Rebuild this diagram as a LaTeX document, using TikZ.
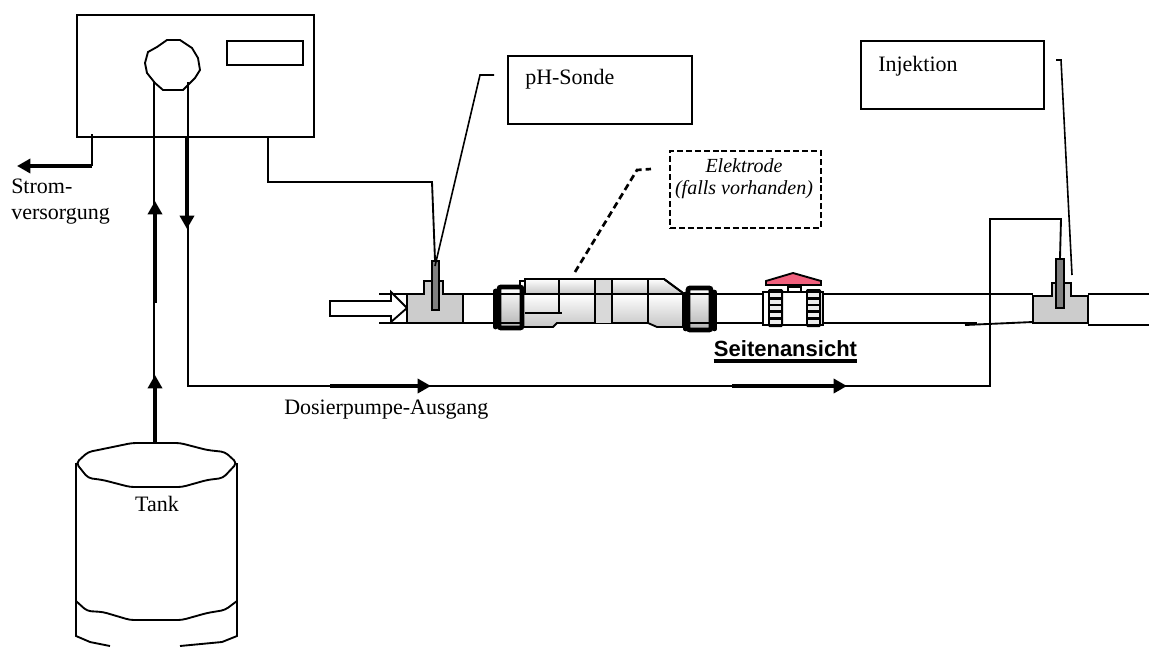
\documentclass[tikz,border=0pt]{standalone}
\usepackage{fontspec}
\setmainfont{Liberation Serif}
\setsansfont{Liberation Sans}
\usetikzlibrary{arrows.meta,positioning}
\definecolor{fittinggray}{gray}{0.8}
\definecolor{probegray}{gray}{0.5}
\definecolor{handlepink}{RGB}{240,96,125}
\tikzset{
  line/.style={draw,line width=1.4pt},
  leader/.style={draw,line width=1.2pt},
  labelbox/.style={draw,line width=1.5pt,inner sep=0pt,anchor=north west},
  caption/.style={font=\fontsize{16.5}{19}\selectfont,inner sep=0pt},
  fitting/.style={fill=fittinggray,draw=black,line width=.8pt},
  probe/.style={fill=probegray,draw=black,line width=1.5pt,inner sep=0pt},
  flow/.style={-{Triangle[length=10pt,width=10.5pt]},line width=2.6pt},
  nut/.style={draw,line width=3.6pt,rounded corners=1.5pt,inner sep=0pt,top color=white,bottom color=gray!60},
  body/.style={draw,line width=1.4pt,top color=white,bottom color=gray!45},
}
\begin{document}
\begin{tikzpicture}[x=.75pt,y=-.75pt]
  \useasboundingbox (0,0) rectangle (1149,646);
  % pump
  \node[labelbox,minimum width=177.75pt,minimum height=91.5pt] (pump) at (76,14) {};
  \node[labelbox,minimum width=57pt,minimum height=18pt] (display) at (226,40) {};
  \draw[line] (145,63) -- (148,52) -- (157,47) -- (167,40) -- (180,40) -- (192,48) -- (198,58) -- (200,70) -- (195,78) -- (188,85) -- (183,90) -- (163,90) -- (155,83) -- (147,73) -- cycle;
  % tank
  \draw[line,rounded corners=3pt] (76,463) -- (88,452) -- (103,449) -- (132,443) -- (180,443) -- (207,450) -- (225,452) -- (237,463) -- (223,478) -- (207,480) -- (182,487) -- (130,487) -- (103,480) -- (88,478) -- cycle;
  \draw[line] (76,463) -- (76,636) -- (90,642) -- (110,646);
  \draw[line] (237,463) -- (237,636) -- (222,642) -- (180,646);
  \draw[line,rounded corners=3pt] (76,601) -- (87,611) -- (103,612) -- (130,620) -- (182,620) -- (207,613) -- (225,610) -- (237,601);
  \node[caption] (tank) at (157,504) {Tank};
  % pipe
  \draw[line] (379,294) -- (1033,294);
  \draw[line] (379,323) -- (977,323);
  \draw[line] (965,325) -- (1033,322);
  \draw[line] (1088,294) -- (1149,294);
  \draw[line] (1088,325) -- (1149,325);
  \draw[line,line width=2pt] (942,294) -- (977,294);
  % feed arrow
  \draw[line,fill=white] (330,301) -- (391,301) -- (391,292) -- (407,308) -- (391,322) -- (391,316) -- (330,316) -- cycle;
  % fittings
  \draw[fitting] (407,294) -- (424,294) -- (424,281) -- (443,281) -- (443,294) -- (463,294) -- (463,323) -- (407,323) -- cycle;
  \draw[fitting] (1033,296) -- (1052,296) -- (1052,283) -- (1071,283) -- (1071,296) -- (1088,296) -- (1088,323) -- (1033,323) -- cycle;
  \node[probe,minimum width=5.25pt,minimum height=36.75pt] (sonde) at (435,285.5) {};
  \node[probe,minimum width=6pt,minimum height=36.75pt] (injprobe) at (1060,283.5) {};
  % electrode cell
  \path[body] (525,279) -- (664,279) -- (683,293) -- (683,294) -- (525,294) -- cycle;
  \path[body] (523,294) -- (683,294) -- (683,327) -- (657,327) -- (648,323) -- (557,323) -- (553,327) -- (523,327) -- cycle;
  \fill[gray!30] (595,279) rectangle (612,323);
  \draw[line,line width=.8pt] (595,279) -- (595,323) (612,279) -- (612,323);
  \draw[line] (520,294) -- (686,294) (559,279) -- (559,313) (648,279) -- (648,323);
  \draw[line] (525,279) -- (664,279) -- (683,293);
  \draw[line] (525,313) -- (562,313);
  \draw[line] (520,287) -- (520,281) -- (525,281);
  \node[nut,minimum width=17.25pt,minimum height=30.75pt] (nutleft) at (510.5,307.5) {};
  \draw[line width=3.6pt,line cap=round] (495.5,291) -- (495.5,327);
  \node[nut,minimum width=17.25pt,minimum height=31.5pt] (nutright) at (699.5,309) {};
  \draw[line width=3.4pt,line cap=round] (685.5,294) -- (685.5,329);
  \draw[line width=3.4pt,line cap=round] (714.5,292) -- (714.5,329);
  \foreach \py in {294,323} {
    \draw[line,line width=1pt] (nutleft.west |- 0,\py) -- (nutleft.east |- 0,\py);
    \draw[line,line width=1pt] (nutright.west |- 0,\py) -- (nutright.east |- 0,\py);
  }
  % valve
  \draw[line,fill=white] (763,292) rectangle (823,325);
  \draw[line,fill=handlepink] (766,281) -- (793,273) -- (821,281) -- (821,285) -- (766,285) -- cycle;
  \draw[line,fill=white] (788,287) rectangle (801,292);
  \foreach \vx in {768,806} {
    \fill[black,rounded corners=1pt] (\vx,289) rectangle ++(15,38);
    \foreach \vy in {293,300,306,313,320} \fill[gray!15] (\vx+2,\vy) rectangle ++(11,4);
  }
  % labels
  \node[labelbox,minimum width=138pt,minimum height=51pt] (sondebox) at (507,55) {};
  \node[caption,anchor=base west] at (525,84) {pH-Sonde};
  \node[labelbox,minimum width=137.25pt,minimum height=51pt] (injbox) at (860,40) {};
  \node[caption,anchor=base west] at (878,71) {Injektion};
  \node[labelbox,dash pattern=on 4.5pt off 2.2pt,line width=1.6pt,minimum width=113.25pt,minimum height=57.75pt] (elekbox) at (669,150) {};
  \node[caption,font=\fontsize{15}{16.5}\selectfont\itshape,align=center,anchor=north] at (744,158) {Elektrode\\(falls vorhanden)};
  \node[caption,anchor=base west] (ausgang) at (284,414) {Dosierpumpe-Ausgang};
  \node[caption,align=left,anchor=north west] (strom) at (11,179) {Strom-\\versorgung};
  \node[caption,font=\fontsize{16.5}{19}\selectfont\sffamily\bfseries,anchor=base] (view) at (785.5,356) {Seitenansicht};
  \draw[line width=2.6pt] ([yshift=-3.75pt]view.base west) -- ([yshift=-3.75pt]view.base east);
  % leads
  \coordinate (sondeknee) at (480,75);
  \coordinate (sondeend) at (494,75);
  \draw[leader] (sonde.north) ++(0,6) -- (sondeknee) -- (sondeend);
  \coordinate (elekknee) at (637,170);
  \coordinate (elekend) at (651,169);
  \draw[line width=2pt,dash pattern=on 5pt off 3pt] (575,272) -- (elekknee) -- (elekend);
  \coordinate (injknee) at (1061,60);
  \coordinate (injend) at (1056,60);
  \draw[leader] (1072,275) -- (injknee) -- (injend);
  \coordinate (pumpout) at (188,82);
  \draw[line] (injprobe.north) -- (1061,219) -- (990,219) -- (990,386) -- (188,386) -- (pumpout);
  \draw[line] (268,136) -- (268,182) -- (432,182) -- (sonde.north);
  \coordinate (pumpin) at (154,82);
  \draw[line] (pumpin) -- (154,443);
  \draw[line] (92,134) -- (92,166);
  \draw[flow] (92,166) -- (17,166);
  \draw[flow] (155,443) -- (155,375);
  \draw[flow] (155,303) -- (155,201);
  \draw[flow] (187,136) -- (187,229);
  \draw[flow] (330,386) -- (431,386);
  \draw[flow] (732,386) -- (847,386);
\end{tikzpicture}
\end{document}
